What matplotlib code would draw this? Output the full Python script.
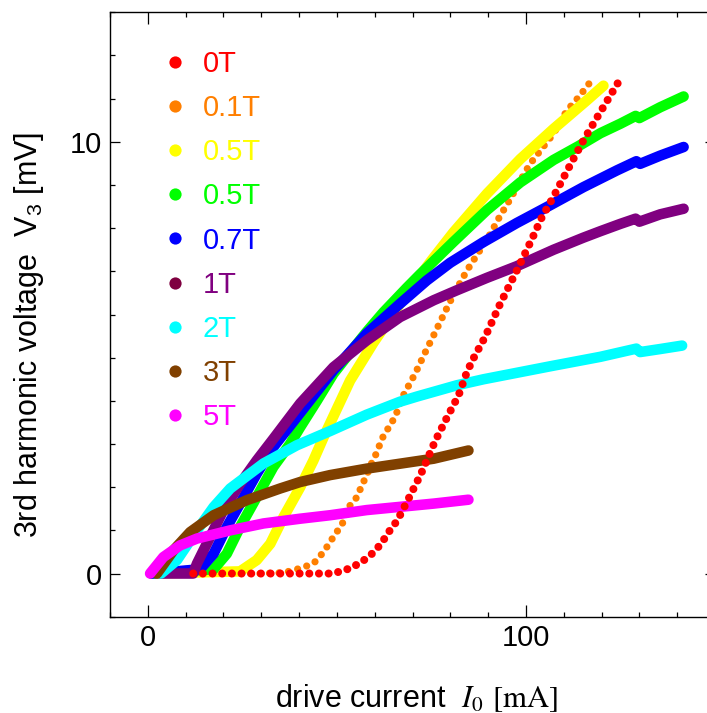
import matplotlib
matplotlib.use("Agg")
import matplotlib.pyplot as plt
from matplotlib.lines import Line2D
from matplotlib.ticker import MultipleLocator

plt.rcParams["font.family"] = ["Liberation Sans", "DejaVu Sans"]
plt.rcParams["mathtext.fontset"] = "stix"

# field labels and colours (legend order)
labels = ["0T", "0.1T", "0.5T", "0.5T", "0.7T", "1T", "2T", "3T", "5T"]
colors = ["#FF0000", "#FF7F00", "#FFFF00", "#00FF00", "#0000FF",
          "#800080", "#00FFFF", "#804000", "#FF00FF"]
marker_colors = ["#FF0000", "#FF7F00", "#FFFF00", "#00FF00", "#0000FF",
                 "#7F0040", "#00FFFF", "#804000", "#FF00FF"]

# drive current I0 [mA] / 3rd harmonic voltage V3 [mV]
x_0T = [12, 30, 49, 53.5, 56.6, 59.3, 61.0, 62.3, 63.7, 65.4, 66.7, 69.4, 72.2,
        76.0, 79.1, 82.2, 84.4, 86.1, 89.2, 93.2, 97.6, 101.6, 104.2, 107.1,
        110.0, 112.6, 115.2, 118.3, 121.0, 123.6, 125.2]
y_0T = [0, 0, 0, 0.12, 0.27, 0.46, 0.62, 0.77, 0.96, 1.16, 1.35, 1.81, 2.30,
        3.07, 3.61, 4.13, 4.67, 4.98, 5.48, 6.25, 7.02, 7.75, 8.25, 8.70,
        9.18, 9.61, 10.03, 10.49, 10.88, 11.26, 11.49]

x_01T = [12, 30, 36, 40.3, 43.8, 46.5, 49.1, 50.9, 52.2, 53.5, 55.3, 56.6,
         57.9, 59.3, 60.6, 61.9, 65.4, 67.6, 70.7, 73.4, 76.0, 78.6, 80.8,
         84.4, 87.5, 90.6, 93.2, 95.9, 98.5, 101.1, 104.2, 107.3, 110.8,
         113.9, 116.8]
y_01T = [0, 0, 0.02, 0.12, 0.23, 0.50, 0.85, 1.08, 1.27, 1.58, 1.77, 2.04,
         2.28, 2.58, 2.81, 3.12, 3.63, 4.13, 4.63, 5.13, 5.59, 6.06, 6.45,
         7.02, 7.44, 7.87, 8.29, 8.68, 9.10, 9.49, 9.84, 10.19, 10.72,
         11.03, 11.36]

x_05T_y = [1, 24.4, 28.8, 32.4, 35.9, 40.3, 43.8, 46.5, 53.5, 59.7, 66.7,
           71.2, 75.0, 80.8, 89.7, 98.5, 107.3, 116.1, 120.5]
y_05T_y = [0, 0.05, 0.31, 0.69, 1.31, 2.00, 2.62, 3.16, 4.47, 5.35, 6.25,
           6.80, 7.25, 7.90, 8.80, 9.60, 10.30, 10.96, 11.30]

x_05T_g = [1, 17.4, 20.9, 24.4, 28.8, 33.2, 37.6, 40.3, 44.7, 49.1, 53.5,
           57.9, 62.3, 68.5, 72.0, 80.8, 89.7, 98.5, 107.3, 113.9, 119.7,
           125.0, 129.0, 130.0, 135.5, 141.7]
y_05T_g = [0, 0.10, 0.46, 1.08, 1.77, 2.47, 3.00, 3.39, 4.00, 4.63, 5.12,
           5.60, 6.05, 6.62, 6.93, 7.68, 8.42, 9.06, 9.58, 9.90, 10.20,
           10.42, 10.60, 10.55, 10.80, 11.05]

x_07T = [1, 13.8, 17.4, 20.9, 24.4, 28.8, 33.2, 39.2, 49.1, 57.9, 66.7,
         73.8, 80.0, 88.8, 97.6, 106.4, 115.2, 124.1, 129.2, 130.2, 135.5,
         141.7]
y_07T = [0, 0.10, 0.46, 1.08, 1.62, 2.31, 2.93, 3.60, 4.71, 5.56, 6.25,
         6.79, 7.20, 7.68, 8.12, 8.53, 8.95, 9.34, 9.55, 9.49, 9.68, 9.88]

x_1T = [3.5, 12, 13, 16.5, 20, 24.4, 28.8, 33.2, 40.3, 49.1, 57.9, 66.7,
        75.6, 81.7, 89.7, 97.6, 107.3, 115.2, 119.7, 125.0, 129.0, 130.0,
        135.5, 141.7]
y_1T = [0, 0, 0.23, 0.85, 1.47, 2.08, 2.62, 3.12, 3.94, 4.78, 5.40, 5.94,
        6.33, 6.56, 6.85, 7.12, 7.50, 7.78, 7.93, 8.10, 8.22, 8.15, 8.32,
        8.45]

x_2T = [3.5, 7.7, 13, 17.4, 21.8, 30.6, 39.4, 48.2, 57.9, 66.7, 71.2, 81.7,
        88.8, 97.6, 106.4, 119.7, 129.2, 130.2, 135.5, 141.3]
y_2T = [0, 0.31, 1.00, 1.54, 1.97, 2.55, 2.97, 3.30, 3.68, 3.98, 4.10, 4.36,
        4.50, 4.65, 4.80, 5.02, 5.21, 5.13, 5.20, 5.28]

x_3T = [2.4, 6.8, 11.2, 17.4, 26.2, 35.0, 40.3, 48.2, 57.9, 75.6, 84.8]
y_3T = [0, 0.54, 0.96, 1.35, 1.70, 1.97, 2.12, 2.28, 2.43, 2.66, 2.85]

x_5T = [0.6, 4.1, 8.5, 13, 21.8, 30.6, 40.3, 48.2, 57.9, 75.6, 84.8]
y_5T = [0, 0.38, 0.65, 0.81, 1.00, 1.16, 1.27, 1.35, 1.47, 1.62, 1.71]

series = {
    "0T": (x_0T, y_0T),
    "0.1T": (x_01T, y_01T),
    "0.5T_y": (x_05T_y, y_05T_y),
    "0.5T_g": (x_05T_g, y_05T_g),
    "0.7T": (x_07T, y_07T),
    "1T": (x_1T, y_1T),
    "2T": (x_2T, y_2T),
    "3T": (x_3T, y_3T),
    "5T": (x_5T, y_5T),
}
keys = list(series.keys())

fig = plt.figure(figsize=(7.07, 7.13), dpi=100)
ax = fig.add_axes([110 / 707, 96.3 / 713, 605 / 707, 604.4 / 713])

# dense sweeps drawn as thick bands, sparse ones as dots
dense_order = ["0.5T_y", "0.5T_g", "0.7T", "1T", "2T", "3T", "5T"]
for k in ["0.1T"] + dense_order:
    xs, ys = series[k]
    c = colors[keys.index(k)]
    if k == "0.1T":
        ax.plot(xs, ys, color=c, lw=5.2, linestyle=(0, (0.001, 1.32)),
                dash_capstyle="round", zorder=2)
    else:
        ax.plot(xs, ys, color=c, lw=7.6, solid_capstyle="round",
                solid_joinstyle="round", zorder=3)

xs, ys = series["0T"]
ax.plot(xs, ys, color=colors[0], lw=5.8, linestyle=(0, (0.001, 1.2)),
        dash_capstyle="round", zorder=4)

ax.set_xlim(-10, 150)
ax.set_ylim(-1, 13)
ax.xaxis.set_major_locator(MultipleLocator(100))
ax.xaxis.set_minor_locator(MultipleLocator(10))
ax.yaxis.set_major_locator(MultipleLocator(10))
ax.yaxis.set_minor_locator(MultipleLocator(1))
ax.tick_params(which="both", direction="in", top=True, right=True,
               width=0.9, labelsize=21)
ax.tick_params(axis="x", which="major", length=8.6, pad=5)
ax.tick_params(axis="y", which="major", length=7.2, pad=6)
ax.tick_params(which="minor", length=3.4)
for s in ax.spines.values():
    s.set_linewidth(1.0)

ax.set_xlabel(r"drive current  $I_0$ $[\mathrm{mA}]$", fontsize=22)
ax.set_ylabel(r"3rd harmonic voltage  $\mathregular{V_3}$ [mV]", fontsize=22)
ax.xaxis.set_label_coords(0.507, -0.108)
ax.yaxis.set_label_coords(-0.106, 0.466)

handles = [Line2D([], [], marker="o", ls="", markersize=8.8,
                  color=mc, markeredgewidth=0) for mc in marker_colors]
leg = ax.legend(handles, labels, loc="upper left",
                bbox_to_anchor=(0.0833, 0.938), frameon=False, fontsize=21,
                handlelength=1.0, handletextpad=0.45, labelspacing=0.555,
                borderpad=0, borderaxespad=0)
for t, c in zip(leg.get_texts(), colors):
    t.set_color(c)

fig.savefig("out.png", dpi=100)
